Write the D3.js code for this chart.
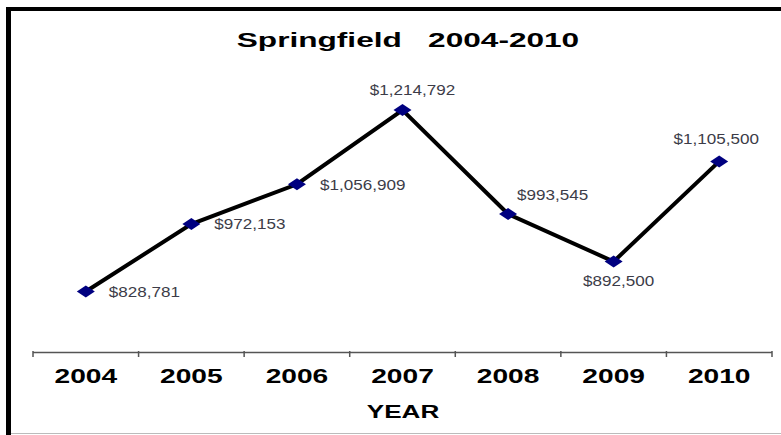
<!DOCTYPE html>
<html><head><meta charset="utf-8">
<script src="https://cdn.jsdelivr.net/npm/d3@7"></script>
<style>body{margin:0;background:#fff}svg{display:block}text{white-space:pre}</style>
</head><body>
<script>
const years = ["2004","2005","2006","2007","2008","2009","2010"];
const values = [828781, 972153, 1056909, 1214792, 993545, 892500, 1105500];
const title = "Springfield   2004-2010";
const xTitle = "YEAR";

const W = 781, H = 435;
const svg = d3.select("body").append("svg").attr("width", W).attr("height", H);

// frame
svg.append("rect").attr("x",0).attr("y",0).attr("width",W).attr("height",H).attr("fill","#fff");
svg.append("rect").attr("x",6).attr("y",7).attr("width",5).attr("height",H-7).attr("fill","#000");
svg.append("rect").attr("x",6).attr("y",7).attr("width",W-6).attr("height",4).attr("fill","#000");
svg.append("line").attr("x1",11).attr("x2",W).attr("y1",433.5).attr("y2",433.5).attr("stroke","#bbb").attr("stroke-width",1);

const x = d3.scaleBand().domain(years).range([33, 772]).padding(0);
const y = d3.scaleLinear().domain([700000, 1300000]).range([352, 70]);

function stretchedText(g, tx, ty, txt, size, weight, sx, anchor, fill) {
  return g.append("text")
    .attr("xml:space", "preserve")
    .attr("transform", `translate(${tx},${ty}) scale(${sx},1)`)
    .attr("text-anchor", anchor)
    .attr("font-family", "Liberation Sans, Arial, sans-serif")
    .attr("font-size", size).attr("font-weight", weight)
    .attr("fill", fill).text(txt);
}

// title
stretchedText(svg, 408, 47, title, 20, "bold", 1.58, "middle", "#000");

// axis
const ax = svg.append("g");
ax.append("line").attr("x1", x.range()[0]).attr("x2", x.range()[1])
  .attr("y1", 352.5).attr("y2", 352.5).attr("stroke", "#555").attr("stroke-width", 1.5);
const bounds = years.map(d => x(d)).concat([x.range()[1]]);
ax.selectAll("line.tick").data(bounds).enter().append("line").attr("class","tick")
  .attr("x1", d => d).attr("x2", d => d).attr("y1", 351).attr("y2", 357)
  .attr("stroke", "#555").attr("stroke-width", 1.5);
years.forEach(yr => {
  stretchedText(ax, x(yr) + x.bandwidth()/2, 383, yr, 21, "bold", 1.34, "middle", "#000");
});
stretchedText(svg, 403, 418, xTitle, 18, "bold", 1.45, "middle", "#000");

// line
const cx = d => x(d) + x.bandwidth()/2;
const line = d3.line().x((d,i) => cx(years[i])).y(d => y(d));
svg.append("path").datum(values).attr("d", line).attr("fill","none")
  .attr("stroke","#000").attr("stroke-width",4).attr("stroke-linejoin","miter");

// markers
svg.selectAll("path.mk").data(values).enter().append("path").attr("class","mk")
  .attr("d", "M0,-6 L9,0 L0,6 L-9,0 Z")
  .attr("transform", (d,i) => `translate(${cx(years[i])},${y(d)})`)
  .attr("fill", "#000080");

// value labels (placement style per point)
const placement = [
  {dx: 23, dy: 6, a: "start"},
  {dx: 23, dy: 5, a: "start"},
  {dx: 23, dy: 6, a: "start"},
  {dx: 10, dy: -15, a: "middle"},
  {dx: 9, dy: -14, a: "start"},
  {dx: 5, dy: 24, a: "middle"},
  {dx: -3, dy: -17, a: "middle"}
];
const fmt = d3.format("$,");
values.forEach((v, i) => {
  const p = placement[i];
  stretchedText(svg, cx(years[i]) + p.dx, y(v) + p.dy, fmt(v), 14, "normal", 1.22, p.a, "#3c3c48");
});
</script>
</body></html>
